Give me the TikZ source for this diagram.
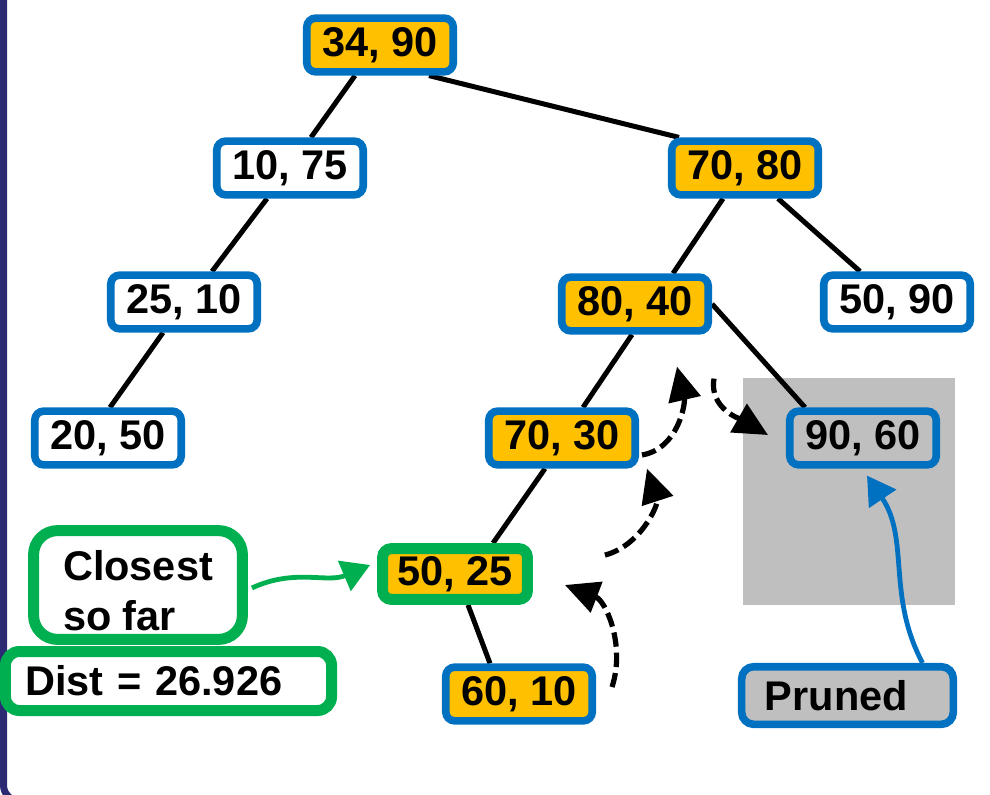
\documentclass[tikz,border=0pt]{standalone}
\usepackage{fontspec}
\setmainfont{Liberation Sans}
\usetikzlibrary{arrows.meta,calc,backgrounds}
\definecolor{kdblue}{HTML}{0070C0}
\definecolor{kdgold}{HTML}{FFC000}
\definecolor{kdgreen}{HTML}{00B050}
\definecolor{kdgray}{HTML}{BFBFBF}
\definecolor{kdnavy}{HTML}{2B2A73}
\begin{document}
\begin{tikzpicture}[x=0.025cm,y=-0.025cm,font=\bfseries\fontsize{29.5}{36}\selectfont,
 key/.style={draw=kdblue,line width=0.19cm,rounded corners=0.22cm,fill=white,minimum width=3.66cm,minimum height=1.34cm,inner sep=0pt},
 seen/.style={key,fill=kdgold},
 tag/.style={draw=kdgreen,line width=0.275cm,fill=white,inner sep=0pt},
 tree/.style={line width=0.125cm,black},
 back/.style={-{Triangle[length=0.85cm,width=0.8cm]},line width=0.13cm,dash pattern=on 0.36cm off 0.15cm},
 hint/.style={-{Triangle[length=0.7cm,width=0.8cm]},line width=0.12cm}]
\useasboundingbox (0,0) rectangle (990,794);
\clip (0,0) rectangle (990,794);

\node[seen] (p3490) at (380,45) {34, 90};
\node[key] (p1075) at (290,168) {10, 75};
\node[seen] (p7080) at (745,168) {70, 80};
\node[key] (p2510) at (184,302) {25, 10};
\node[seen] (p8040) at (635,304) {80, 40};
\node[key] (p5090) at (897,302) {50, 90};
\node[key] (p2050) at (108,438) {20, 50};
\node[seen] (p7030) at (562,438) {70, 30};
\node[key,fill=kdgray] (p9060) at (863,438) {90, 60};
\node[seen,draw=kdgreen,line width=0.275cm,minimum width=3.62cm,minimum height=1.27cm] (p5025) at (455,574) {50, 25};
\node[seen] (p6010) at (519,694) {60, 10};

\node[tag,rounded corners=0.6cm,align=left,minimum width=5.22cm,minimum height=2.72cm] (closest) at (138,585) {\rule{0pt}{1.03cm}Closest\\so far};
\node[tag,rounded corners=0.35cm,align=left,text width=7.17cm,inner xsep=0.49cm,minimum height=1.475cm] (dist) at (168.5,681) {Dist = 26.926};
\node[key,fill=kdgray,rounded corners=0.3cm,align=left,text width=4.13cm,inner xsep=0.58cm,minimum height=1.44cm] (pruned) at (847.5,695.5) {Pruned};

\begin{scope}[on background layer]
\draw[kdnavy,line width=0.175cm,rounded corners=0.4cm] (3.5,-20) -- (3.5,801) -- (1010,801);
\fill[kdgray] (743,378) rectangle (955,605);
\draw[tree] ($(p3490.south)+(-25,0)$) -- ($(p1075.north)+(21,0)$);
\draw[tree] ($(p3490.south)+(49,0)$) -- ($(p7080.north)+(-66,0)$);
\draw[tree] ($(p1075.south)+(-23,0)$) -- ($(p2510.north)+(28,0)$);
\draw[tree] ($(p2510.south)+(-21,0)$) -- ($(p2050.north)+(2,0)$);
\draw[tree] ($(p7080.south)+(-22,0)$) -- ($(p8040.north)+(38,0)$);
\draw[tree] ($(p7080.south)+(33,0)$) -- ($(p5090.north)+(-37,0)$);
\draw[tree] (p8040.east) -- ($(p9060.north)+(-58,0)$);
\draw[tree] ($(p8040.south)+(-3,0)$) -- ($(p7030.north)+(21,0)$);
\draw[tree] ($(p7030.south)+(-17,0)$) -- ($(p5025.north)+(38,0)$);
\draw[tree] ($(p5025.south)+(13,0)$) -- ($(p6010.north)+(-29,0)$);
\end{scope}

\draw[back] ($(p6010.east)+(16,-7)$) to[out=72,in=-21] ($(p5025.east)+(32,11)$);
\draw[back] ($(p5025.north east)+(72,12)$) to[out=15,in=-72] ($(p7030.south east)+(8,0)$);
\draw[back] ($(p7030.east)+(3,17)$) to[out=10,in=-77] ($(p8040.south)+(42,32)$);
\draw[back] ($(p8040.south east)+(2,44)$) to[out=-100,in=150] ($(p9060.west)+(-18,-3)$);
\draw[hint,kdgreen] ($(closest.east)+(4,3)$) to[out=25,in=-157] ($(p5025.west)+(-7,-9)$);
\draw[hint,kdblue] ($(pruned.north)+(75,0)$) to[out=118,in=-56] ($(p9060.south)+(4,7)$);
\end{tikzpicture}
\end{document}
